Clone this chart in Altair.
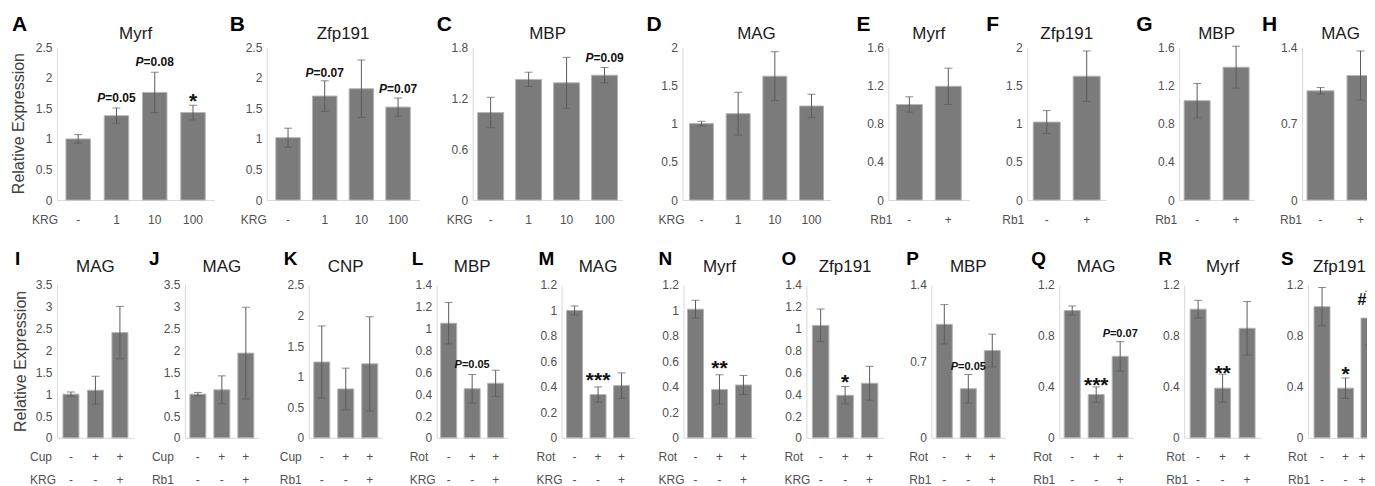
import altair as alt
import pandas as pd

FONT = "Liberation Sans"

# ---------------- data ----------------
A_mean = [1.00, 1.38, 1.76, 1.43]; A_err = [0.07, 0.125, 0.33, 0.12]
B_mean = [1.02, 1.70, 1.82, 1.52]; B_err = [0.155, 0.25, 0.47, 0.15]
C_mean = [1.03, 1.42, 1.38, 1.47]; C_err = [0.18, 0.085, 0.30, 0.09]
D_mean = [1.00, 1.13, 1.62, 1.23]; D_err = [0.03, 0.28, 0.32, 0.155]
E_mean = [1.00, 1.19]; E_err = [0.08, 0.19]
F_mean = [1.02, 1.62]; F_err = [0.15, 0.33]
G_mean = [1.04, 1.39]; G_err = [0.18, 0.22]
H_mean = [1.00, 1.14]; H_err = [0.03, 0.225]
I_mean = [1.00, 1.09, 2.41]; I_err = [0.05, 0.32, 0.60]
J_mean = [1.00, 1.10, 1.94]; J_err = [0.04, 0.32, 1.05]
K_mean = [1.24, 0.80, 1.21]; K_err = [0.59, 0.34, 0.77]
L_mean = [1.05, 0.45, 0.50]; L_err = [0.19, 0.13, 0.12]
M_mean = [1.00, 0.34, 0.41]; M_err = [0.035, 0.06, 0.10]
N_mean = [1.01, 0.38, 0.415]; N_err = [0.07, 0.115, 0.075]
O_mean = [1.03, 0.39, 0.50]; O_err = [0.15, 0.08, 0.155]
P_mean = [1.04, 0.45, 0.80]; P_err = [0.18, 0.13, 0.15]
Q_mean = [1.00, 0.34, 0.64]; Q_err = [0.035, 0.06, 0.115]
R_mean = [1.01, 0.39, 0.86]; R_err = [0.07, 0.11, 0.21]
S_mean = [1.03, 0.39, 0.94]; S_err = [0.15, 0.08, 0.21]

T25 = [0, 0.5, 1, 1.5, 2, 2.5]
T18 = [0, 0.6, 1.2, 1.8]
T20 = [0, 0.5, 1, 1.5, 2]
T16 = [0, 0.4, 0.8, 1.2, 1.6]
T14 = [0, 0.7, 1.4]
T35 = [0, 0.5, 1, 1.5, 2, 2.5, 3, 3.5]
T14b = [0, 0.2, 0.4, 0.6, 0.8, 1, 1.2, 1.4]
T12 = [0, 0.2, 0.4, 0.6, 0.8, 1, 1.2]
T12b = [0, 0.4, 0.8, 1.2]

KRG_DOSE = ["-", "1", "10", "100"]
PM2 = ["-", "+"]
TREAT = ["-", "+", "+"]
ADDON = ["-", "-", "+"]

# annotations: (bar index, baseline value, text, kind)
A_notes = [(1, 1.606, "=0.05", "p"), (2, 2.19, "=0.08", "p"), (3, 1.50, "*", "s")]
B_notes = [(1, 2.01, "=0.07", "p"), (3, 1.75, "=0.07", "p")]
C_notes = [(3, 1.62, "=0.09", "p")]
L_notes = [(1, 0.638, "=0.05", "p")]
M_notes = [(1, 0.40, "***", "s")]
N_notes = [(1, 0.494, "**", "s")]
O_notes = [(1, 0.45, "*", "s")]
P_notes = [(1, 0.62, "=0.05", "p")]
Q_notes = [(1, 0.36, "***", "s"), (2, 0.79, "=0.07", "p")]
R_notes = [(1, 0.457, "**", "s")]
S_notes = [(1, 0.449, "*", "s"), (2, 1.04, "#", "h")]

TOP = [
    ("A", "Myrf", A_mean, A_err, 2.5, T25, [("KRG", KRG_DOSE)], A_notes),
    ("B", "Zfp191", B_mean, B_err, 2.5, T25, [("KRG", KRG_DOSE)], B_notes),
    ("C", "MBP", C_mean, C_err, 1.8, T18, [("KRG", KRG_DOSE)], C_notes),
    ("D", "MAG", D_mean, D_err, 2.0, T20, [("KRG", KRG_DOSE)], []),
    ("E", "Myrf", E_mean, E_err, 1.6, T16, [("Rb1", PM2)], []),
    ("F", "Zfp191", F_mean, F_err, 2.0, T20, [("Rb1", PM2)], []),
    ("G", "MBP", G_mean, G_err, 1.6, T16, [("Rb1", PM2)], []),
    ("H", "MAG", H_mean, H_err, 1.4, T14, [("Rb1", PM2)], []),
]
BOTTOM = [
    ("I", "MAG", I_mean, I_err, 3.5, T35, [("Cup", TREAT), ("KRG", ADDON)], []),
    ("J", "MAG", J_mean, J_err, 3.5, T35, [("Cup", TREAT), ("Rb1", ADDON)], []),
    ("K", "CNP", K_mean, K_err, 2.5, T25, [("Cup", TREAT), ("Rb1", ADDON)], []),
    ("L", "MBP", L_mean, L_err, 1.4, T14b, [("Rot", TREAT), ("KRG", ADDON)], L_notes),
    ("M", "MAG", M_mean, M_err, 1.2, T12, [("Rot", TREAT), ("KRG", ADDON)], M_notes),
    ("N", "Myrf", N_mean, N_err, 1.2, T12, [("Rot", TREAT), ("KRG", ADDON)], N_notes),
    ("O", "Zfp191", O_mean, O_err, 1.4, T14b, [("Rot", TREAT), ("KRG", ADDON)], O_notes),
    ("P", "MBP", P_mean, P_err, 1.4, T14, [("Rot", TREAT), ("Rb1", ADDON)], P_notes),
    ("Q", "MAG", Q_mean, Q_err, 1.2, T12b, [("Rot", TREAT), ("Rb1", ADDON)], Q_notes),
    ("R", "Myrf", R_mean, R_err, 1.2, T12b, [("Rot", TREAT), ("Rb1", ADDON)], R_notes),
    ("S", "Zfp191", S_mean, S_err, 1.2, T12b, [("Rot", TREAT), ("Rb1", ADDON)], S_notes),
]

# ---------------- layout (pixels) ----------------
# (plot left, band step, bar width, outer gap, letter dx, row-label dx)
TOP_LAY = [
    (57, 38.3, 24.5, 9, -45, 1), (267, 36.7, 24.5, 9, -37, 0),
    (473, 38, 26, 5, -36, 0), (683, 36.7, 24, 7, -36, 2),
    (889, 39, 26, 8, -32, 4), (1028, 40, 27, 6, -41, -3),
    (1180, 39, 26, 5, -43, -2), (1303, 40, 27, 5, -40, 0),
]
BOT_LAY = [
    (55, 24.5, 16, 6, -42, -27), (183, 24, 16, 5, -36, -33),
    (307, 24, 16, 5, -25, -29), (435, 23.5, 16, 4, -25, -27),
    (560, 23.5, 16, 5, -23, -25), (682, 24, 16, 4, -25, -25),
    (805, 24.5, 16.5, 6, -25, -22), (930, 24, 16, 5, -25, -22),
    (1058, 24, 16, 5, -28, -26), (1183, 24.5, 16, 6, -26, -18),
    (1307, 23.5, 16, 6, -27, -20),
]
H = 153
ROW_GAP = 85          # from bottom of top plots to top of bottom plots
TOP_EXT = 39          # fixed extents used to pin the layout
BOT_EXT = 30
TOP2_EXT = 40
LAST_W = [70, 66]
EDGE_NUDGE = -7       # keeps texts at the page's right edge visible
TITLE_NUDGE = {"S": -6}
BAR = "#7b7b7b"
EDGE = "#b5b5b5"
ERR = "#5a5a5a"
AXC = "#d9d9d9"
LAB = "#505050"

ONE = pd.DataFrame({"a": [0]})


def panel(spec, lay, panel_w, row, first, last):
    letter, gene, mean, err, ymax, ticks, rows, notes = spec
    left, s, b, f, ldx, rdx = lay
    n = len(mean)
    pI = 1 - b / s
    pO = f / s
    W = s * (n - pI + 2 * pO)
    df = pd.DataFrame({
        "i": list(range(n)), "m": mean,
        "lo": [m - e for m, e in zip(mean, err)],
        "hi": [m + e for m, e in zip(mean, err)],
    })
    caps = pd.DataFrame({"i": list(range(n)) * 2,
                         "v": list(df["lo"]) + list(df["hi"])})
    xs = alt.Scale(domain=list(range(n)), range=[0, W],
                   paddingInner=pI, paddingOuter=pO)
    xax = alt.Axis(labels=False, ticks=False, domain=True, domainColor=AXC,
                   domainWidth=1, grid=False, title=None)
    X = alt.X("i:O", scale=xs, axis=xax)
    ys = alt.Scale(domain=[0, ymax], nice=False, zero=True)
    yax = alt.Axis(values=ticks, format=".2~f", title=None, ticks=False,
                   tickSize=0, domainColor=AXC, grid=False, labelFont=FONT,
                   labelFontSize=12, labelColor=LAB, labelPadding=5,
                   labelOverlap=False)

    def Y(field):
        return alt.Y(field, type="quantitative", scale=ys, axis=yax)

    layers = [
        alt.Chart(df).mark_bar(color=BAR, stroke=EDGE, strokeWidth=1).encode(x=X, y=Y("m")),
        alt.Chart(df).mark_rule(color=ERR, strokeWidth=1).encode(x=X, y=Y("lo"), y2="hi"),
        alt.Chart(caps).mark_tick(color=ERR, thickness=1, size=8).encode(x=X, y=Y("v")),
    ]
    # annotations
    pfs = 12 if row == 0 else 11
    for idx, val, txt, kind in notes:
        nd = pd.DataFrame({"i": [idx], "v": [val]})
        if kind == "p":
            dx = -0.93 * pfs
            layers.append(alt.Chart(nd).mark_text(
                text="P", font=FONT, fontSize=pfs, fontWeight="bold", fontStyle="italic",
                align="right", baseline="alphabetic", dx=dx, color="#111111"
            ).encode(x=X, y=Y("v")))
            layers.append(alt.Chart(nd).mark_text(
                text=txt, font=FONT, fontSize=pfs, fontWeight="bold",
                align="left", baseline="alphabetic", dx=dx, color="#111111"
            ).encode(x=X, y=Y("v")))
        else:
            fs = 21 if kind == "s" else 16
            ndx = EDGE_NUDGE if (last and idx == n - 1) else 0
            layers.append(alt.Chart(nd).mark_text(
                text=txt, font=FONT, fontSize=fs, fontWeight="bold",
                align="center", baseline="alphabetic", color="#111111", dx=ndx
            ).encode(x=X, y=Y("v")))
    # category labels under bars
    ys_rows = [20] if row == 0 else [19, 42]
    for (rname, labs), yy in zip(rows, ys_rows):
        ld = pd.DataFrame({"i": list(range(n)), "lab": labs})
        if last and row == 1:
            groups = [(ld.iloc[: n - 1], 0), (ld.iloc[n - 1:], EDGE_NUDGE)]
        else:
            groups = [(ld, 0)]
        for part, gdx in groups:
            layers.append(alt.Chart(part).mark_text(
                font=FONT, fontSize=12, color=LAB, baseline="middle", align="center", dx=gdx
            ).encode(x=X, y=alt.value(H + yy), text="lab:N"))
        layers.append(alt.Chart(ONE).mark_text(
            text=rname, font=FONT, fontSize=12, color=LAB, baseline="middle",
            align="right" if row == 0 else "left"
        ).encode(x=alt.value(rdx), y=alt.value(H + yy)))
    # panel letter and gene title
    lfs = 21 if row == 0 else 19
    lby = -16 if row == 0 else -20
    tby = -8 if row == 0 else -13
    layers.append(alt.Chart(ONE).mark_text(
        text=letter, font=FONT, fontSize=lfs, fontWeight="bold", color="#000000",
        align="left", baseline="alphabetic").encode(x=alt.value(ldx), y=alt.value(lby)))
    layers.append(alt.Chart(ONE).mark_text(
        text=gene, font=FONT, fontSize=17, color="#1a1a1a",
        align="center", baseline="alphabetic", dx=TITLE_NUDGE.get(letter, 0)
    ).encode(x=alt.value(W / 2), y=alt.value(tby)))
    if first:
        layers.append(alt.Chart(ONE).mark_text(
            text="Relative Expression", font=FONT, fontSize=16, color="#404040",
            angle=270, align="center", baseline="middle"
        ).encode(x=alt.value(-38 if row == 0 else -36), y=alt.value(H / 2)))
        # invisible guide that pins this row's outer extents
        if row == 0:
            gx, gy, gy2 = -(left - 8), -TOP_EXT, H + BOT_EXT
        else:
            gx, gy, gy2 = -(left - 8), -TOP2_EXT, H / 2
        layers.append(alt.Chart(ONE).mark_rule(opacity=0, strokeWidth=0.01).encode(
            x=alt.value(gx), y=alt.value(gy), y2=alt.value(gy2)))
    return alt.layer(*layers).properties(width=panel_w, height=H)


def build_row(specs, lays, row):
    out = []
    for k, (spec, lay) in enumerate(zip(specs, lays)):
        last = k + 1 == len(lays)
        pw = LAST_W[row] if last else lays[k + 1][0] - lay[0]
        out.append(panel(spec, lay, pw, row, k == 0, last))
    return out


top = alt.hconcat(*build_row(TOP, TOP_LAY, 0), spacing=0, bounds="flush")
bottom = alt.hconcat(*build_row(BOTTOM, BOT_LAY, 1), spacing=0, bounds="flush")

chart = alt.vconcat(top, bottom, spacing=ROW_GAP - BOT_EXT - TOP2_EXT).configure_view(
    stroke=None
).properties(
    padding={"left": 0, "top": 47 - 8 - TOP_EXT, "right": -16, "bottom": 0},
    background="white",
)

chart.save("out.html", embed_options={"renderer": "svg", "actions": False})
